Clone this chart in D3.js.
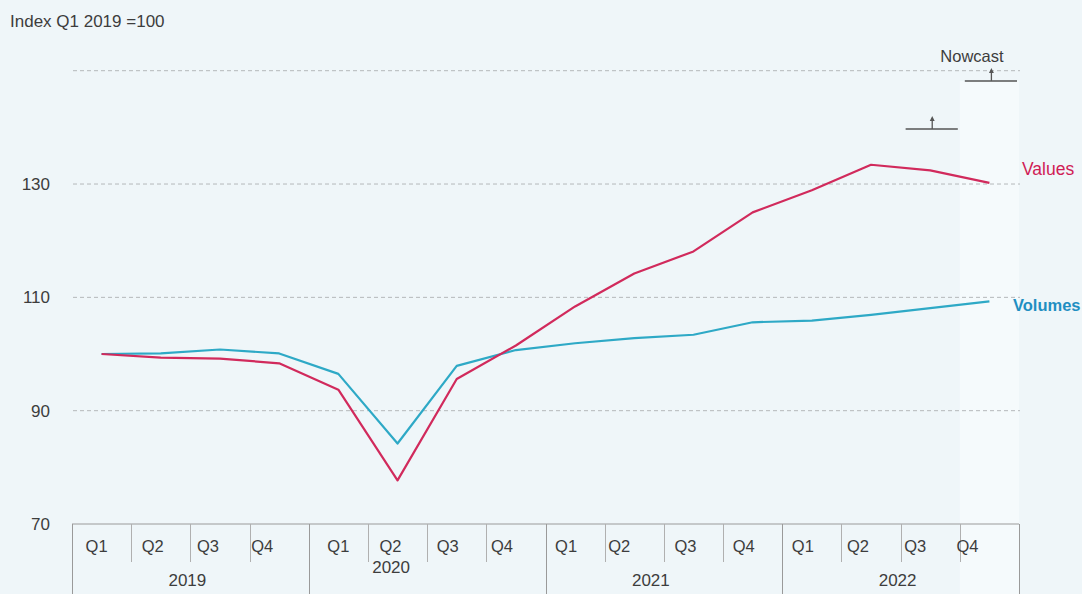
<!DOCTYPE html>
<html>
<head>
<meta charset="utf-8">
<script src="https://cdn.jsdelivr.net/npm/d3@7"></script>
<style>
  html, body { margin: 0; padding: 0; background: #eff6f9; }
  svg { display: block; font-family: "Liberation Sans", Arial, Helvetica, sans-serif; }
</style>
</head>
<body>
<svg id="chart" width="1082" height="594"></svg>
<script>
// ---- data ----
const years = ["2019", "2020", "2021", "2022"];
const quarters = ["Q1", "Q2", "Q3", "Q4"];
const periods = years.flatMap(y => quarters.map(q => y + " " + q));
const valuesSeries = [100, 99.35, 99.2, 98.35, 93.7, 77.7, 95.6, 101.5, 108.4, 114.2, 118.1, 125.0, 128.9, 133.4, 132.4, 130.2];
const volumesSeries = [100, 100.1, 100.8, 100.1, 96.5, 84.2, 97.9, 100.7, 101.9, 102.8, 103.4, 105.6, 105.9, 106.9, 108.1, 109.3];
const yTicks = [70, 90, 110, 130];
const yGrid = [90, 110, 130, 150];
const nowcastPeriods = ["2022 Q3", "2022 Q4"];
const nowcastLevels = [139.7, 148.2];

// ---- layout ----
const W = 1082, H = 594;
const mLeft = 72, mRight = 1019, mTop = 70.7, mBottom = 524;
const textColor = "#3d3d3d";
const svg = d3.select("#chart");

const x = d3.scaleBand().domain(periods).range([mLeft, mRight]).paddingInner(0).paddingOuter(0);
const y = d3.scaleLinear().domain([70, 150]).range([mBottom, mTop]);
const cx = p => x(p) + x.bandwidth() / 2;

// background
svg.append("rect").attr("width", W).attr("height", H).attr("fill", "#eff6f9");

// nowcast lighter band
svg.append("rect")
  .attr("x", x("2022 Q4")).attr("y", y(nowcastLevels[1]))
  .attr("width", mRight - x("2022 Q4")).attr("height", H - y(nowcastLevels[1]))
  .attr("fill", "#f5fafc");

// gridlines
svg.append("g").selectAll("line").data(yGrid).join("line")
  .attr("x1", mLeft + 1).attr("x2", mRight + 1)
  .attr("y1", d => y(d)).attr("y2", d => y(d))
  .attr("stroke", "#b4b8ba").attr("stroke-width", 1)
  .attr("stroke-dasharray", "4,3");

// y labels
svg.append("g").selectAll("text").data(yTicks).join("text")
  .attr("x", 50).attr("y", d => y(d)).attr("dy", "0.35em")
  .attr("text-anchor", "end").attr("font-size", 17).attr("fill", textColor)
  .text(d => d);

// title
svg.append("text").attr("x", 10).attr("y", 27)
  .attr("font-size", 17).attr("fill", textColor).text("Index Q1 2019 =100");

// x axis box
const ax = svg.append("g").attr("stroke", "#9a9a9a").attr("stroke-width", 1);
ax.append("line").attr("x1", mLeft).attr("x2", mRight).attr("y1", mBottom).attr("y2", mBottom);
periods.forEach((p, i) => {
  const xx = Math.round(x(p)) + 0.5;
  if (i % 4 === 0) {
    ax.append("line").attr("x1", xx).attr("x2", xx).attr("y1", mBottom).attr("y2", H);
  } else {
    ax.append("line").attr("x1", xx).attr("x2", xx).attr("y1", mBottom).attr("y2", mBottom + 38)
      .attr("stroke", "#b0b0b0");
  }
});
ax.append("line").attr("x1", Math.round(mRight) + 0.5).attr("x2", Math.round(mRight) + 0.5).attr("y1", mBottom).attr("y2", H);

// quarter labels
const qShift = [-5, -8, -12, -17, 0, -7, -9, -14, -9, -15, -8, -9, -9, -13, -15, -22];
svg.append("g").selectAll("text").data(periods).join("text")
  .attr("x", (d, i) => cx(d) + qShift[i]).attr("y", mBottom + 28)
  .attr("text-anchor", "middle").attr("font-size", 16.5).attr("fill", textColor)
  .text(d => d.split(" ")[1]);

// year labels
const yearShift = [-3, -36, -13, -3];
const yearDy = [62, 49, 62, 62];
svg.append("g").selectAll("text").data(years).join("text")
  .attr("x", (d, i) => {
    const a = x(d + " Q1"), b = x(d + " Q4") + x.bandwidth();
    return (a + b) / 2 + yearShift[i];
  })
  .attr("y", (d, i) => mBottom + yearDy[i])
  .attr("text-anchor", "middle").attr("font-size", 17).attr("fill", textColor)
  .text(d => d);

// lines
const line = d3.line().x((d, i) => cx(periods[i])).y(d => y(d));
svg.append("path").datum(volumesSeries).attr("d", line)
  .attr("fill", "none").attr("stroke", "#2ea9c6").attr("stroke-width", 2.2).attr("stroke-linejoin", "round");
svg.append("path").datum(valuesSeries).attr("d", line)
  .attr("fill", "none").attr("stroke", "#d12a5c").attr("stroke-width", 2.2).attr("stroke-linejoin", "round");

// series labels
svg.append("text").attr("x", 1022).attr("y", y(valuesSeries[15]) - 14).attr("dy", "0.35em")
  .attr("font-size", 17.5).attr("fill", "#d01c55").text("Values");
svg.append("text").attr("x", 1013).attr("y", y(volumesSeries[15]) + 4).attr("dy", "0.35em")
  .attr("font-size", 16.5).attr("font-weight", "bold").attr("fill", "#1f8fc2").text("Volumes");

// nowcast markers
const nm = svg.append("g").attr("stroke", "#555").attr("fill", "#555");
nowcastPeriods.forEach((p, i) => {
  const yy = y(nowcastLevels[i]);
  const x0 = x(p) + 5, x1 = x(p) + x.bandwidth() - 2;
  const xc = cx(p) + 2;
  nm.append("line").attr("x1", x0).attr("x2", x1).attr("y1", yy).attr("y2", yy).attr("stroke-width", 1.5);
  nm.append("line").attr("x1", xc).attr("x2", xc).attr("y1", yy).attr("y2", yy - 11).attr("stroke-width", 1.3);
  nm.append("path").attr("d", `M${xc - 2.5},${yy - 8} L${xc},${yy - 13} L${xc + 2.5},${yy - 8} Z`).attr("stroke", "none");
});
svg.append("text").attr("x", 972).attr("y", 62)
  .attr("text-anchor", "middle").attr("font-size", 16.5).attr("fill", textColor).text("Nowcast");
</script>
</body>
</html>
